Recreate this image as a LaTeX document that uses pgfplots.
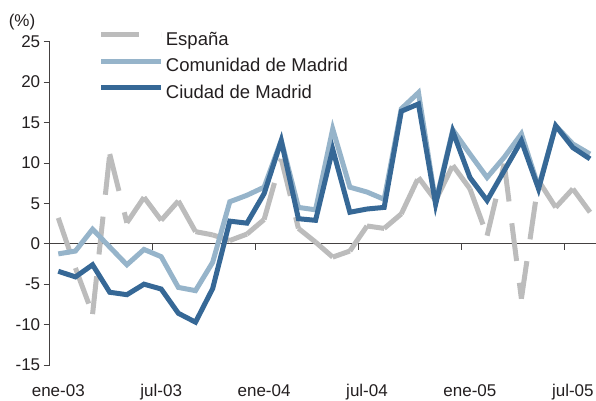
\documentclass[border=0pt]{standalone}
\usepackage{fontspec}
\setmainfont{Liberation Sans}
\usepackage{pgfplots}
\pgfplotsset{compat=1.18}
\definecolor{espgray}{RGB}{188,188,188}
\definecolor{comblue}{RGB}{150,180,202}
\definecolor{ciublue}{RGB}{54,104,150}
\definecolor{txt}{RGB}{35,31,32}

\pgfplotstableread{
i esp com ciu
0 3.2 -1.25 -3.4
1 -3.0 -0.9 -4.1
2 -8.7 1.8 -2.6
3 11.1 -0.4 -6.0
4 2.6 -2.6 -6.3
5 5.75 -0.7 -5.0
6 2.9 -1.6 -5.6
7 5.3 -5.4 -8.6
8 1.5 -5.8 -9.7
9 1.1 -2.3 -5.55
10 0.4 5.2 2.8
11 1.2 6.0 2.55
12 3.0 7.0 6.2
13 10.5 12.8 12.75
14 1.9 4.5 3.1
15 0.2 4.2 2.9
16 -1.65 14.2 11.7
17 -0.9 7.0 3.9
18 2.2 6.4 4.3
19 1.9 5.5 4.5
20 3.7 16.7 16.4
21 8.2 18.7 17.3
22 5.35 5.1 4.9
23 9.7 14.1 13.9
24 6.8 11.1 8.2
25 1.0 8.2 5.35
26 9.9 10.7 9.05
27 -6.8 13.6 12.75
28 7.8 7.0 6.8
29 4.5 14.6 14.6
30 6.8 12.35 11.9
31 3.9 11.1 10.5
}\datatable

\begin{document}
\begin{tikzpicture}
\useasboundingbox (0,0) rectangle (596pt,400pt);
% zero line with its month ticks
\begin{axis}[
  at={(49.7pt,156.24pt)}, anchor=south west,
  scale only axis, width=546.3pt, height=202.06pt,
  xmin=-0.5, xmax=31.35, ymin=0, ymax=25,
  axis x line=bottom, axis y line=none,
  axis line style={-},
  x axis line style={line width=0.8pt, color=txt!85},
  xtick={5.5,11.5,17.5,23.5,29.5}, xticklabels={},
  tick align=outside, major tick length=6pt,
  xtick style={line width=0.8pt, color=txt!85},
]
\end{axis}
\begin{axis}[
  at={(49.7pt,35pt)}, anchor=south west,
  scale only axis, width=546.3pt, height=323.3pt,
  xmin=-0.5, xmax=31.35, ymin=-15, ymax=25,
  axis y line=left, axis x line*=bottom,
  axis line style={-},
  x axis line style={draw=none},
  y axis line style={line width=0.8pt, color=txt!85},
  ytick={-15,-10,...,25},
  xtick={0,6,12,18,24,30},
  xticklabels={ene-03,jul-03,ene-04,jul-04,ene-05,jul-05},
  xtick style={draw=none},
  ytick style={line width=0.8pt, color=txt!85},
  tick align=outside, major tick length=6pt,
  ticklabel style={font=\fontsize{17}{20}\selectfont, text=txt},
  xticklabel style={anchor=base, yshift=-25pt},
  /pgf/number format/assume math mode=true,
  legend style={at={(0.0897,1.0355)}, anchor=north west, draw=none, fill=none,
    inner sep=0pt, font=\fontsize{18.5}{22}\selectfont, text=txt,
    row sep=5.3pt, column sep=1pt,
    nodes={inner sep=1pt, text height=14pt, text depth=5pt}},
  legend cell align=left,
  legend image code/.code={\draw[#1] (0pt,6pt) -- (60pt,6pt);},
]
\addlegendimage{espgray, line width=5pt, dash pattern=on 38pt off 22pt}
\addlegendentry{España}
\pgfplotsinvokeforeach{-0.1:1.1,0.9:2.1,1.9:3.1,2.9:4.1,3.9:5.1,4.9:6.1,5.9:7.1,6.9:8.1,7.9:9.1,8.9:10.1,9.9:11.1,10.9:12.1,11.9:13.1,12.9:14.1,13.9:15.1,14.9:16.1,15.9:17.1,16.9:18.1,17.9:19.1,18.9:20.1,19.9:21.1,20.9:22.1,21.9:23.1,22.9:24.1,23.9:25.1,24.9:26.1,25.9:27.1,26.9:28.1,27.9:29.1,28.9:30.1,29.9:31.1}{
  \addplot[espgray, line width=5pt, dash pattern=on 38pt off 22pt, forget plot,
    restrict x to domain=#1] table[x=i, y=esp] {\datatable};
}
\addplot[comblue, line width=5pt] table[x=i, y=com] {\datatable};
\addlegendentry{Comunidad de Madrid}
\addplot[ciublue, line width=5pt] table[x=i, y=ciu] {\datatable};
\addlegendentry{Ciudad de Madrid}
\end{axis}
\node[font=\fontsize{17}{20}\selectfont, text=txt] at (22pt,378pt) {(\%)};
\end{tikzpicture}
\end{document}
